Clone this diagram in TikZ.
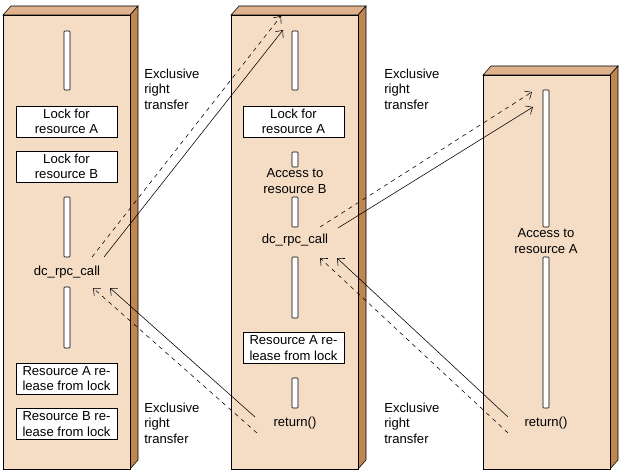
\documentclass[tikz,border=0pt]{standalone}
\usepackage{fontspec}
\setmainfont{Liberation Sans}
\usetikzlibrary{arrows.meta,positioning}
\definecolor{frontface}{RGB}{245,220,196}
\definecolor{topface}{RGB}{222,178,140}
\definecolor{sideface}{RGB}{192,134,82}

% box with depth: left, top, right, bottom (pixel units)
\newcommand{\lifebox}[4]{%
  \draw[fill=topface] (#1,#2) -- (#1+8,#2-9) -- (#3+8,#2-9) -- (#3,#2) -- cycle;
  \draw[fill=sideface] (#3,#2) -- (#3+8,#2-9) -- (#3+8,#4-9) -- (#3,#4) -- cycle;
  \draw[fill=frontface] (#1,#2) rectangle (#3,#4);
}
% activity bar: x, top, bottom
\newcommand{\actbar}[3]{%
  \draw[fill=white, rounded corners=0.6pt] (#1-3,#2) rectangle (#1+3,#3);
}

\begin{document}
\begin{tikzpicture}[x=0.025cm, y=-0.025cm,
    txt/.style={font=\fontsize{9.3}{11}\selectfont, align=center, inner sep=0pt},
    lockbox/.style={txt, draw, fill=white, minimum width=2.525cm, minimum height=0.775cm},
    note/.style={txt, align=left, anchor=west},
    flow/.style={-{Straight Barb[length=4pt, width=7pt]}, line width=0.4pt},
    backflow/.style={flow, dash pattern=on 3pt off 3pt},
]
\useasboundingbox (0,0) rectangle (620,473);

% Lifelines
\lifebox{3}{15}{130}{469}
\lifebox{231}{15}{358}{469}
\lifebox{483}{75}{610}{469}

% Bars
\foreach \t/\b in {31/90, 197/257, 287/348} {\actbar{67}{\t}{\b}}
\foreach \t/\b in {31/90, 152/167, 197/227, 257/318, 378/408} {\actbar{295}{\t}{\b}}
\foreach \t/\b in {90/227, 257/408} {\actbar{546}{\t}{\b}}

% Left client
\node[lockbox] (lockA1) at (66.5,121.5) {Lock for\\resource A};
\node[lockbox] (lockB1) at (66.5,166.5) {Lock for\\resource B};
\node[txt] (call1) at (67,272) {dc\_rpc\_call};
\node[lockbox] (relA1) at (66.5,378.5) {Resource A re-\\lease from lock};
\node[lockbox] (relB1) at (66.5,424) {Resource B re-\\lease from lock};

% Middle client
\node[lockbox] (lockA2) at (293.5,121.5) {Lock for\\resource A};
\node[txt] (access2) at (295,181) {Access to\\resource B};
\node[txt] (call2) at (295,240) {dc\_rpc\_call};
\node[lockbox] (relA2) at (293.5,348) {Resource A re-\\lease from lock};
\node[txt] (ret2) at (295,423) {return()};

% Right client
\node[txt] (access3) at (546,241) {Access to\\resource A};
\node[txt] (ret3) at (546,423) {return()};

% Notes
\node[note] (ex1) at (144,89) {Exclusive\\right\\transfer};
\node[note] (ex2) at (384,89) {Exclusive\\right\\transfer};
\node[note] (ex3) at (144,423) {Exclusive\\right\\transfer};
\node[note] (ex4) at (384,423) {Exclusive\\right\\transfer};

% Arrow ends
\coordinate (c1s) at (104,257);  \coordinate (c1d) at (92,257);
\coordinate (t2s) at (283,30);   \coordinate (t2d) at (281,16);
\coordinate (c2s) at (338,228);  \coordinate (c2d) at (320,227);
\coordinate (t3s) at (533,107);  \coordinate (t3d) at (532,92);
\coordinate (r2s) at (255,417);  \coordinate (r2d) at (257,433);
\coordinate (h1s) at (110,288);  \coordinate (h1d) at (93,288);
\coordinate (r3s) at (508,417);  \coordinate (r3d) at (508,433);
\coordinate (h2s) at (337,258);  \coordinate (h2d) at (320,258);

% Transfers
\draw[flow] (c1s) -- (t2s);
\draw[backflow] (c1d) -- (t2d);
\draw[flow] (c2s) -- (t3s);
\draw[backflow] (c2d) -- (t3d);
\draw[flow] (r2s) -- (h1s);
\draw[backflow] (r2d) -- (h1d);
\draw[flow] (r3s) -- (h2s);
\draw[backflow] (r3d) -- (h2d);
\end{tikzpicture}
\end{document}
